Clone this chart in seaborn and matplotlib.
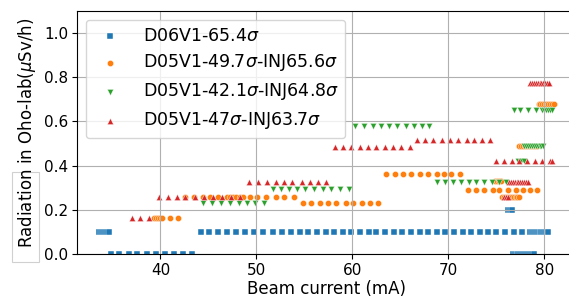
import pandas as pd
import matplotlib.pyplot as plt
import seaborn as sns
from matplotlib.patches import Rectangle

# series names (legend)
labels = [r'D06V1-65.4$\sigma$',
          r'D05V1-49.7$\sigma$-INJ65.6$\sigma$',
          r'D05V1-42.1$\sigma$-INJ64.8$\sigma$',
          r'D05V1-47$\sigma$-INJ63.7$\sigma$']

# each series: radiation levels and the beam currents read at that level
d06_levels = [0.10, 0.0, 0.10, 0.20, 0.0]
d06_currents = [
    [33.6, 33.8, 34.0, 34.2, 34.4, 34.6],
    [34.8, 35.7, 36.7, 37.6, 38.6, 39.5, 40.5, 41.4, 42.35, 43.3],
    [44.2, 45.1, 46.0, 46.9, 47.9, 48.8, 49.75, 50.7, 51.7, 52.7, 53.6, 54.5,
     55.4, 56.3, 57.2, 58.1, 59.0, 59.9, 60.8, 61.7, 62.5, 63.4, 64.3, 65.2,
     66.1, 67.0, 67.9, 68.8, 69.7, 70.6, 71.5, 72.4, 73.25, 74.15, 75.0, 75.9,
     76.8, 77.7, 78.5, 78.7, 78.9, 79.1, 79.3, 79.5, 79.7, 79.9, 80.1, 80.3, 80.4],
    [76.2, 76.4, 76.6],
    [76.7, 76.9, 77.1, 77.3, 77.5, 77.7, 77.9, 78.1, 78.3, 78.5, 78.7, 78.9],
]

d05a_levels = [0.165, 0.26, 0.23, 0.36, 0.29, 0.33, 0.26, 0.49, 0.68]
d05a_currents = [
    [39.3, 39.5, 39.7, 39.9, 40.2, 41.0, 41.8],
    [42.6, 43.5, 44.4, 45.2, 46.0, 46.9, 47.2, 47.6, 47.9, 48.3, 48.6, 49.3,
     50.1, 51.0, 52.0, 52.9, 53.9],
    [54.8, 55.7, 56.6, 57.5, 58.3, 59.3, 60.1, 61.0, 61.8, 62.7],
    [63.5, 64.4, 65.3, 66.1, 67.0, 67.9, 68.8, 69.5, 70.3, 71.2],
    [72.0, 72.9, 73.7, 74.6, 75.3, 76.2, 77.0, 77.8, 78.5, 79.2],
    [74.9, 75.1, 75.3, 75.5],
    [75.6, 75.8, 76.0, 76.2, 76.4, 76.6, 76.8, 77.0, 77.2, 77.4],
    [77.4, 77.6, 77.8, 78.0, 78.2, 78.4, 78.6, 78.8, 79.0, 79.2],
    [79.4, 79.6, 79.8, 80.0, 80.2, 80.4, 80.6, 80.8, 81.0],
]

d05b_levels = [0.23, 0.295, 0.58, 0.325, 0.42, 0.49, 0.65]
d05b_currents = [
    [44.45, 45.4, 46.3, 47.25, 48.15, 49.05, 49.85, 50.8],
    [51.7, 52.6, 53.4, 54.2, 55.1, 56.0, 56.9, 57.8, 58.7, 59.6],
    [60.3, 61.2, 62.1, 63.0, 63.8, 64.65, 65.55, 66.4, 67.2, 68.0],
    [68.8, 69.7, 70.5, 71.3, 72.1, 72.9, 73.7, 74.5, 75.3, 76.0],
    [77.3, 77.6, 77.9],
    [77.9, 78.1, 78.3, 78.5, 78.7, 78.9, 79.1, 79.3, 79.5, 79.7, 79.9],
    [76.8, 77.5, 78.3, 79.1, 79.8, 80.0, 80.2, 80.4, 80.6, 80.8],
]

d05c_levels = [0.165, 0.26, 0.325, 0.485, 0.515, 0.42, 0.325, 0.26, 0.775]
d05c_currents = [
    [37.0, 37.9, 38.8],
    [39.85, 40.8, 41.7, 42.6, 43.55, 44.5, 45.45, 46.4, 47.35, 48.3],
    [49.2, 50.2, 51.1, 52.0, 52.85, 53.75, 54.7, 55.55, 56.4, 57.3],
    [58.15, 59.05, 59.9, 60.8, 61.65, 62.5, 63.4, 64.25, 65.1, 66.0],
    [66.7, 67.55, 68.4, 69.3, 70.15, 71.0, 71.9, 72.7, 73.5, 74.3],
    [75.0, 75.8, 76.6, 77.4, 78.15, 79.0, 79.75, 80.55, 80.8],
    [76.3, 76.5, 76.7, 76.9, 77.1, 77.3, 77.5, 77.7, 77.9, 78.1, 78.3],
    [75.8, 76.0, 76.2],
    [78.5, 78.7, 78.9, 79.1, 79.3, 79.5, 79.7, 79.9, 80.1, 80.3, 80.5],
]

series = [(d06_levels, d06_currents), (d05a_levels, d05a_currents),
          (d05b_levels, d05b_currents), (d05c_levels, d05c_currents)]
markers = ['s', 'o', 'v', '^']
colors = sns.color_palette('tab10')[:4]

rows = []
for lab, (levels, currents) in zip(labels, series):
    for lev, cur in zip(levels, currents):
        for c in cur:
            rows.append({'current': c, 'radiation': lev, 'label': lab})
df = pd.DataFrame(rows)

fig = plt.figure(figsize=(5.69, 2.97), dpi=100)
ax = fig.add_axes([77 / 569, 43 / 297, 499 / 569, 243 / 297])

for lab, m, col in zip(labels, markers, colors):
    sub = df[df['label'] == lab]
    sns.scatterplot(data=sub, x='current', y='radiation', marker=m, color=col,
                    s=20, linewidth=0.3, edgecolor='white', label=lab, ax=ax)

ax.set_xlim(31.3, 83.3)
ax.set_ylim(0, 1.1)
ax.set_yticks([0.0, 0.2, 0.4, 0.6, 0.8, 1.0])
ax.set_xticks([40, 50, 60, 70, 80])
ax.grid(True)
ax.tick_params(labelsize=11, pad=3)
ax.set_xlabel('Beam current (mA)', fontsize=12, labelpad=1.5)
ax.set_ylabel(r'Radiation in Oho-lab($\mu$Sv/h)', fontsize=12)
ax.legend(loc='upper left', fontsize=12.5, borderaxespad=0.5,
          handletextpad=0.9, labelspacing=0.45)

fig.patches.append(Rectangle((12 / 569, 35 / 297), 27 / 569, 90 / 297,
                             transform=fig.transFigure, facecolor='white',
                             edgecolor='#d0d0d0', linewidth=0.8, zorder=-1))

plt.savefig('out.png', dpi=100)
